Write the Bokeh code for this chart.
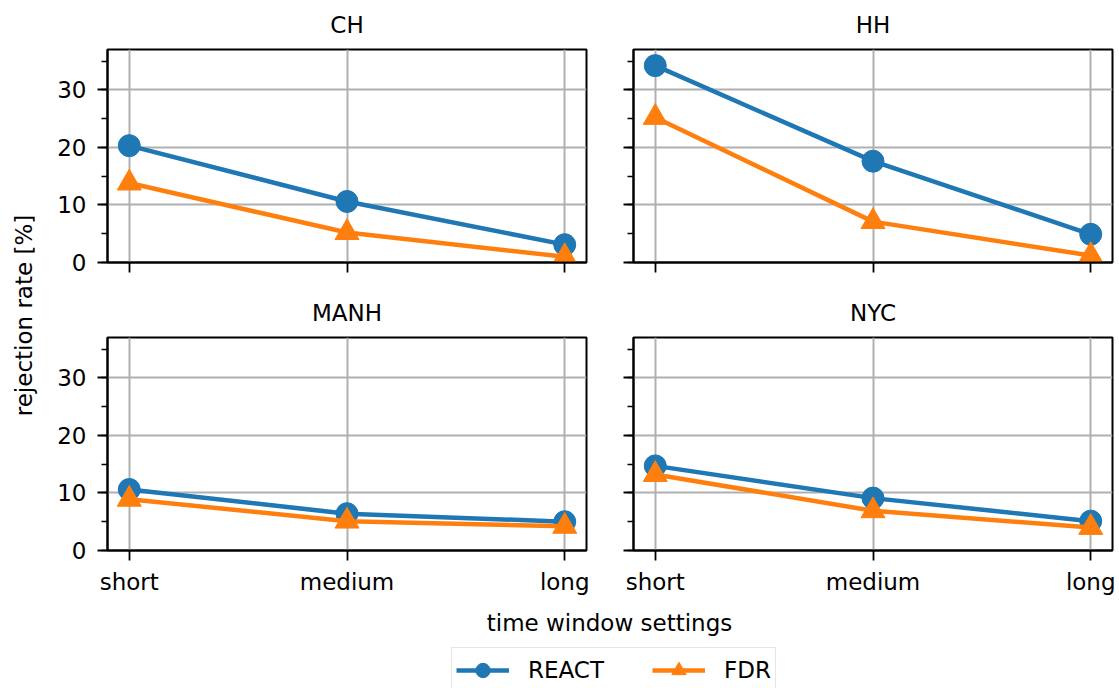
import math
from bokeh.plotting import figure
from bokeh.layouts import row, column
from bokeh.models import (Range1d, FixedTicker, SingleIntervalTicker, Label, Legend,
                          LegendItem, ColumnDataSource, CustomJSTickFormatter)
from bokeh.embed import file_html
from bokeh.resources import INLINE

# ---------------- data ----------------
settings = ["short", "medium", "long"]
regions = ["CH", "HH", "MANH", "NYC"]

react_ch = [20.3, 10.6, 3.1]
fdr_ch = [13.8, 5.2, 1.0]
react_hh = [34.2, 17.6, 4.9]
fdr_hh = [25.2, 7.1, 1.2]
react_manh = [10.6, 6.4, 5.0]
fdr_manh = [8.9, 5.1, 4.2]
react_nyc = [14.7, 9.1, 5.1]
fdr_nyc = [13.2, 6.9, 4.0]

series_names = ["REACT", "FDR"]
y_label = "rejection rate [%]"
x_label = "time window settings"

# ---------------- style ----------------
BLUE = "#1f77b4"
ORANGE = "#ff7f0e"
FONT = "DejaVu Sans"
FS = "23px"
GRID = "#b0b0b0"
LW = 4.5
SPINE = 2


def make_panel(title, react, fdr, width, height, bl, br, bt, bb, show_x, show_y):
    x = list(range(len(settings)))
    src = ColumnDataSource(dict(x=x, react=react, fdr=fdr))
    p = figure(width=width, height=height,
               x_range=Range1d(-0.1, 2.1), y_range=Range1d(0, 37),
               output_backend="svg", toolbar_location=None, title=title,
               min_border_left=bl, min_border_right=br,
               min_border_top=bt, min_border_bottom=bb)
    p.background_fill_color = "white"
    p.border_fill_color = "white"
    p.outline_line_color = "black"
    p.outline_line_width = SPINE

    p.title.text_font = FONT
    p.title.text_font_size = FS
    p.title.text_font_style = "normal"
    p.title.text_color = "black"
    p.title.align = "center"
    p.title.vertical_align = "top"
    p.title.standoff = 20

    xa = p.xaxis[0]
    xa.ticker = FixedTicker(ticks=x, minor_ticks=[])
    ya = p.yaxis[0]
    ya.ticker = SingleIntervalTicker(interval=10, num_minor_ticks=2)
    for ax in (xa, ya):
        ax.axis_line_color = "black"
        ax.axis_line_width = SPINE
        ax.major_tick_line_color = "black"
        ax.major_tick_line_width = 1.8
        ax.minor_tick_line_color = "black"
        ax.minor_tick_line_width = 1.4
        ax.major_tick_in = 0
        ax.major_tick_out = 10
        ax.minor_tick_in = 0
        ax.minor_tick_out = 6
        ax.major_label_text_font = FONT
        ax.major_label_text_font_size = FS
        ax.major_label_text_color = "black"
    if show_x:
        xa.major_label_overrides = {i: s for i, s in enumerate(settings)}
        xa.major_label_standoff = 8
    else:
        xa.formatter = CustomJSTickFormatter(code="return ''")
        xa.major_label_standoff = 0
        xa.major_label_text_font_size = "1px"
    if show_y:
        ya.major_label_standoff = 11
    else:
        ya.formatter = CustomJSTickFormatter(code="return ''")
        ya.major_label_standoff = 0
        ya.major_label_text_font_size = "1px"

    p.grid.grid_line_color = GRID
    p.grid.grid_line_width = 2
    p.xgrid.ticker = FixedTicker(ticks=x, minor_ticks=[])

    p.line("x", "react", source=src, color=BLUE, line_width=LW)
    p.scatter("x", "react", source=src, marker="circle", size=22,
              fill_color=BLUE, line_color=BLUE)
    p.line("x", "fdr", source=src, color=ORANGE, line_width=LW)
    p.scatter("x", "fdr", source=src, marker="triangle", size=24,
              fill_color=ORANGE, line_color=ORANGE)
    return p


TOP_H = 288
BOT_H = 310
p_ch = make_panel(regions[0], react_ch, fdr_ch, 559, TOP_H, 57, 23, 49, 26, False, True)
p_hh = make_panel(regions[1], react_hh, fdr_hh, 510, TOP_H, 24, 7, 49, 26, False, False)
p_manh = make_panel(regions[2], react_manh, fdr_manh, 559, BOT_H, 57, 23, 49, 48, True, True)
p_nyc = make_panel(regions[3], react_nyc, fdr_nyc, 510, BOT_H, 24, 7, 49, 48, True, False)

# y label column
ylab = figure(width=50, height=TOP_H + BOT_H, x_range=Range1d(0, 1), y_range=Range1d(0, 1),
              output_backend="svg", toolbar_location=None, min_border=0,
              x_axis_type=None, y_axis_type=None, outline_line_color=None)
ylab.grid.visible = False
ylab.add_layout(Label(x=23, y=TOP_H + BOT_H - 315, x_units="screen", y_units="screen",
                      text=y_label, angle=math.pi / 2, text_align="center",
                      text_baseline="middle", text_font=FONT, text_font_size=FS,
                      text_color="black"))

# bottom: x label + legend
bot = figure(width=1119, height=90, x_range=Range1d(0, 1), y_range=Range1d(0, 1),
             output_backend="svg", toolbar_location=None, min_border=0,
             x_axis_type=None, y_axis_type=None, outline_line_color=None)
bot.grid.visible = False
bot.add_layout(Label(x=609, y=66, x_units="screen", y_units="screen", text=x_label,
                     text_align="center", text_baseline="alphabetic", text_font=FONT,
                     text_font_size=FS, text_color="black"))
# legend-only renderers (no visible data)
nan = float("nan")
empty = ColumnDataSource(dict(x=[nan], y=[nan]))
r1 = bot.line("x", "y", source=empty, color=BLUE, line_width=LW)
r2 = bot.scatter("x", "y", source=empty, marker="circle", size=22, fill_color=BLUE, line_color=BLUE)
r3 = bot.line("x", "y", source=empty, color=ORANGE, line_width=LW)
r4 = bot.scatter("x", "y", source=empty, marker="triangle", size=24, fill_color=ORANGE, line_color=ORANGE)
legend = Legend(items=[LegendItem(label=series_names[0], renderers=[r1, r2]),
                       LegendItem(label=series_names[1], renderers=[r3, r4])],
                orientation="horizontal", location=(451, -5), margin=0, padding=4,
                glyph_width=53, glyph_height=36, label_standoff=19, spacing=48,
                label_text_font=FONT, label_text_font_size=FS, label_text_color="black",
                label_text_baseline="middle",
                border_line_color="#cccccc", border_line_width=1.5,
                background_fill_color="white", background_fill_alpha=1.0)
bot.add_layout(legend)

layout = column(row(ylab, column(row(p_ch, p_hh), row(p_manh, p_nyc))), bot)

open("out.html", "w").write(file_html(layout, INLINE))
